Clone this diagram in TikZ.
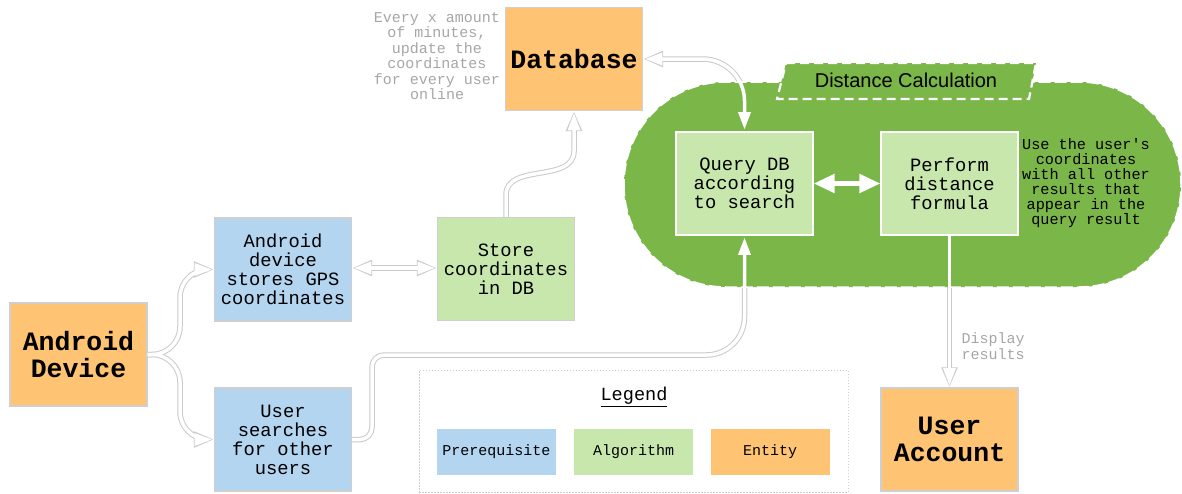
\documentclass[tikz,border=0pt]{standalone}
\usepackage{fontspec}
\setmonofont{Liberation Mono}
\newfontfamily\dsans{Liberation Sans}
\usetikzlibrary{arrows.meta,calc}
\definecolor{cOrange}{HTML}{FFC374}
\definecolor{cBlue}{HTML}{B3D5F0}
\definecolor{cLight}{HTML}{C7E7AD}
\definecolor{cGreen}{HTML}{7AB648}
\definecolor{cEdge}{HTML}{CFCFCF}
\definecolor{cOut}{HTML}{CACACA}
\definecolor{cText}{HTML}{A6A6A6}
\pgfdeclarelayer{conout}
\pgfdeclarelayer{blob}
\pgfsetlayers{conout,blob,main}
\begin{document}
\begin{tikzpicture}[x=1pt,y=-1pt,
  box/.style={draw=cEdge, line width=1.2pt, minimum width=137pt, minimum height=103pt,
    inner sep=0pt, align=center, font=\ttfamily\fontsize{18.8}{19}\selectfont},
  bigbox/.style={box, fill=cOrange, font=\ttfamily\bfseries\fontsize{26.5}{27}\selectfont},
  prebox/.style={box, fill=cBlue},
  algbox/.style={box, fill=cLight},
  inbox/.style={box, fill=cLight, draw=white},
  legbox/.style={minimum width=119pt, minimum height=46pt, inner sep=0pt,
    font=\ttfamily\fontsize{15}{15}\selectfont},
  note/.style={align=center, text=cText, font=\ttfamily\fontsize{15}{15.5}\selectfont},
  outc/.style={draw=cOut, line width=5.5pt, -{Triangle[length=20pt,width=15pt]}},
  inc/.style={draw=white, line width=3.5pt, shorten >=1.8pt, -{Triangle[length=17.5pt,width=12pt]}},
  outcc/.style={draw=cOut, line width=5.5pt, {Triangle[length=20pt,width=15pt]}-{Triangle[length=20pt,width=15pt]}},
  incc/.style={draw=white, line width=3.5pt, shorten >=1.8pt, shorten <=1.8pt,
    {Triangle[length=17.5pt,width=12pt]}-{Triangle[length=17.5pt,width=12pt]}},
]
\useasboundingbox (0,0) rectangle (1182,493);

% nodes
\node[bigbox] (android) at (78.5,354.5) {Android\\Device};
\node[prebox] (gps) at (283,269.5) {Android\\device\\stores GPS\\coordinates};
\node[prebox] (search) at (283,439.5) {User\\searches\\for other\\users};
\node[algbox] (store) at (506,269) {Store\\coordinates\\in DB};
\node[bigbox] (db) at (574,59) {Database};
\node[bigbox] (useracc) at (949.5,439.5) {User\\Account};

% blob
\begin{pgfonlayer}{blob}
\draw[fill=cGreen, draw=white, line width=1.5pt, dash pattern=on 12pt off 4pt,
  rounded corners=102pt] (624,82) rectangle (1181,287);
\draw[fill=cGreen, draw=white, line width=2.2pt, dash pattern=on 9pt off 5pt]
  (786,63) -- (1036,63) -- (1029,99) -- (777,99) -- cycle;
\end{pgfonlayer}
\node[font=\dsans\fontsize{20}{20}\selectfont] (dclabel) at (906,80) {Distance Calculation};
\node[inbox] (query) at (744.5,183.5) {Query DB\\according\\to search};
\node[inbox] (perform) at (949.5,183.5) {Perform\\distance\\formula};
\node[align=center, font=\ttfamily\fontsize{15.2}{15}\selectfont] (side) at (1086,183.5)
  {Use the user's\\coordinates\\with all other\\results that\\appear in the\\query result};

% notes
\node[note] (every) at (437,56) {Every x amount\\of minutes,\\update the\\coordinates\\for every user\\online};
\node[note] (disp) at (993,346) {Display\\results};

% legend
\node[draw=cEdge, line width=1pt, dash pattern=on 1.5pt off 1.5pt, minimum width=429pt,
  minimum height=122pt] (legend) at (633.5,431) {};
\node[font=\ttfamily\fontsize{18.6}{19}\selectfont] (legtitle) at (634,397) {\underline{Legend}};
\node[legbox, fill=cBlue] (lpre) at (496.5,452) {Prerequisite};
\node[legbox, fill=cLight] (lalg) at (633.5,452) {Algorithm};
\node[legbox, fill=cOrange] (lent) at (770,452) {Entity};

\coordinate (bx) at (180,0);
\coordinate (sx) at (372,355);

% outer (gray) pass of connectors
\begin{pgfonlayer}{conout}
\draw[outc] (android.east) [rounded corners=28pt] -| (bx |- gps.west) [rounded corners=12pt] -- (gps.west);
\draw[outc] (android.east) [rounded corners=28pt] -| (bx |- search.west) [rounded corners=12pt] -- (search.west);
\draw[outcc] (gps.east |- 0,268) -- (store.west |- 0,268);
\draw[outc] (store.north) -- ++(0,-22) .. controls +(0,-32) and +(0,32) .. ($(db.south)+(0,40)$) -- (db.south);
\draw[outcc] (db.east) [rounded corners=42pt] -| (query.north);
\draw[outc] (search.east) [rounded corners=12pt] -| (sx) [rounded corners=38pt] -| (query.south);
\draw[outc] (perform.south) -- (useracc.north);
\end{pgfonlayer}

% inner (white) pass of connectors
\draw[inc] (android.east) [rounded corners=28pt] -| (bx |- gps.west) [rounded corners=12pt] -- (gps.west);
\draw[inc] (android.east) [rounded corners=28pt] -| (bx |- search.west) [rounded corners=12pt] -- (search.west);
\draw[incc] (gps.east |- 0,268) -- (store.west |- 0,268);
\draw[inc] (store.north) -- ++(0,-22) .. controls +(0,-32) and +(0,32) .. ($(db.south)+(0,40)$) -- (db.south);
\draw[incc] (db.east) [rounded corners=42pt] -| (query.north);
\draw[inc] (search.east) [rounded corners=12pt] -| (sx) [rounded corners=38pt] -| (query.south);
\draw[inc] (perform.south) -- (useracc.north);
\draw[draw=white, line width=5pt, {Triangle[length=21pt,width=18pt]}-{Triangle[length=21pt,width=18pt]}]
  (query.east) -- (perform.west);
\end{tikzpicture}
\end{document}
